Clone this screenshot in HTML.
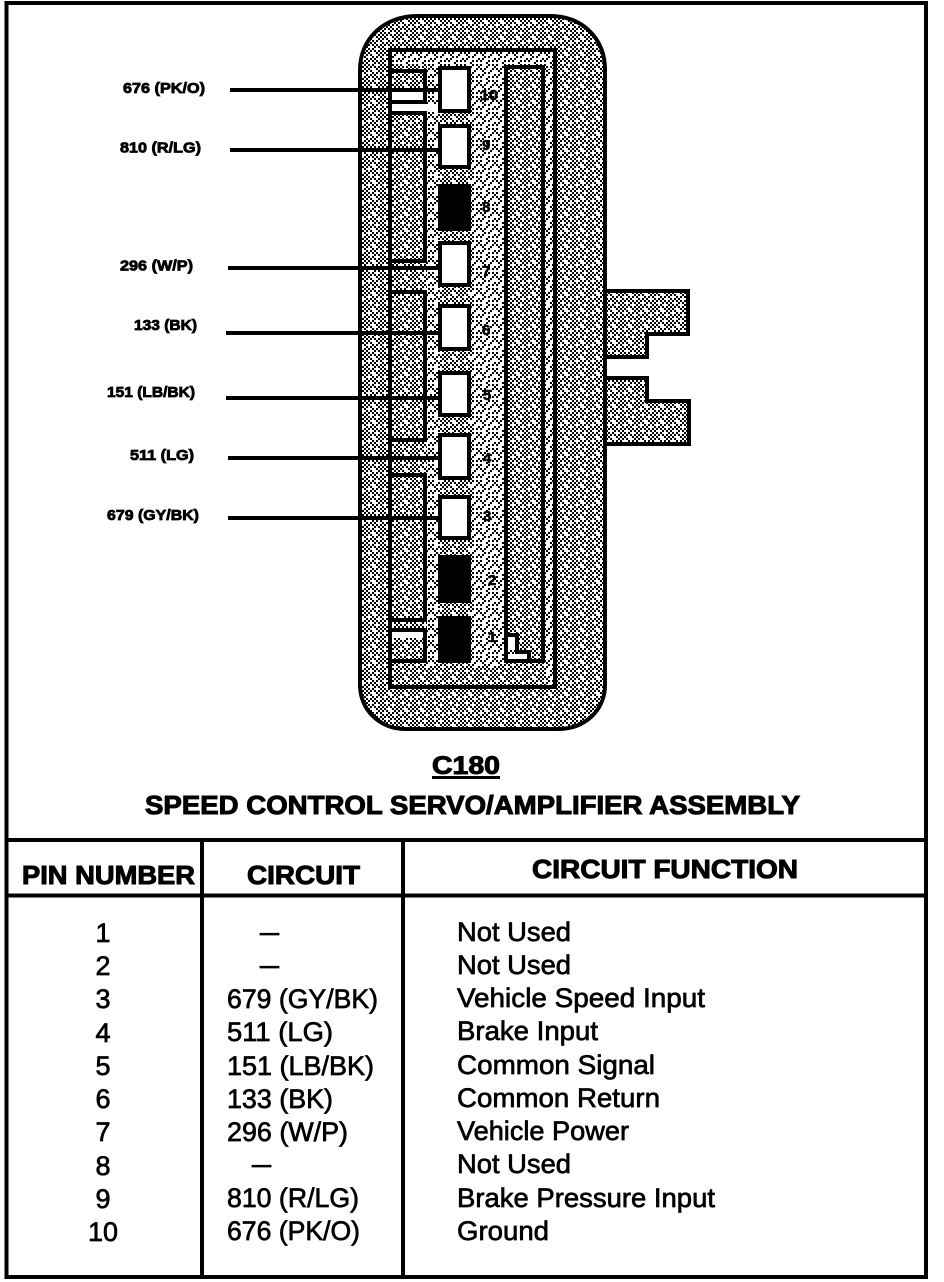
<!DOCTYPE html>
<html><head><meta charset="utf-8"><style>html,body{margin:0;padding:0;background:#fff}svg{display:block}text{font-family:"Liberation Sans",sans-serif;fill:#000}.b{font-weight:bold;stroke:#000;stroke-width:1}.s{font-size:15px;stroke-width:.8}.h{font-size:26px}.r{font-size:27px;stroke:#000;stroke-width:.7}.n{font-weight:bold;font-size:15px;fill:#000;stroke:#000;stroke-width:.6}.k{fill:none;stroke:#000;stroke-width:4}</style></head><body>
<svg width="944" height="1282" viewBox="0 0 944 1282" xmlns="http://www.w3.org/2000/svg">
<defs>
<pattern id="d" width="16" height="16" patternUnits="userSpaceOnUse" shape-rendering="crispEdges"><rect width="16" height="16" fill="#fff"/><path d="M0 0h2v2h-2zM4 0h2v2h-2zM12 0h2v2h-2zM2 2h2v2h-2zM6 2h2v2h-2zM10 2h2v2h-2zM14 2h2v2h-2zM0 4h2v2h-2zM8 4h2v2h-2zM12 4h2v2h-2zM2 6h2v2h-2zM10 6h2v2h-2zM14 6h2v2h-2zM4 8h2v2h-2zM8 8h2v2h-2zM12 8h2v2h-2zM2 10h2v2h-2zM6 10h2v2h-2zM14 10h2v2h-2zM0 12h2v2h-2zM4 12h2v2h-2zM8 12h2v2h-2zM12 12h2v2h-2zM6 14h2v2h-2zM10 14h2v2h-2zM14 14h2v2h-2z" fill="#000"/></pattern>
<pattern id="l" width="16" height="16" patternUnits="userSpaceOnUse" shape-rendering="crispEdges"><rect width="16" height="16" fill="#fff"/><path d="M0 0h2v2h-2zM8 0h2v2h-2zM12 0h2v2h-2zM6 2h2v2h-2zM14 2h2v2h-2zM0 4h2v2h-2zM4 4h2v2h-2zM12 4h2v2h-2zM10 6h2v2h-2zM2 6h2v2h-2zM4 8h2v2h-2zM8 8h2v2h-2zM2 10h2v2h-2zM14 10h2v2h-2zM0 12h2v2h-2zM8 12h2v2h-2zM12 12h2v2h-2zM6 14h2v2h-2z" fill="#000"/></pattern>
</defs>
<g shape-rendering="crispEdges">
<path class="k" d="M6.5 3H926V1277H6.5Z"/>
<path class="k" d="M7 840H926M7 895.500H926M202 840V1277M403 840V1277"/>
</g>
<path fill="url(#d)" d="M605 291H688V334H647V357H605ZM605 378H647V401H689V444H605Z"/>
<path class="k" d="M605 291H688V334H647V357H605M605 378H647V401H689V444H605"/>
<path fill="url(#d)" stroke="#000" stroke-width="4" d="M360 70C360 38 385 16 417 16H550C582 16 605 38 605 70V685C605 710 585 729 558 729H405C380 729 360 710 360 685Z"/>
<g shape-rendering="crispEdges">
<rect x="392" y="52" width="161" height="14" fill="url(#l)"/>
<rect x="545" y="69" width="8" height="616" fill="url(#l)"/>
<rect x="472" y="66" width="33" height="600" fill="url(#l)"/>
<rect x="427" y="66" width="11" height="600" fill="url(#l)"/>
<rect x="392" y="92" width="31" height="8" fill="#fff"/>
<rect x="392" y="104" width="46" height="7" fill="#fff"/>
<rect x="392" y="632" width="31" height="6" fill="#fff"/>
<rect x="508" y="637" width="7" height="13" fill="#fff"/>
<rect x="508" y="654" width="19" height="5" fill="#fff"/>
<path class="k" d="M390 50H555V687H390Z"/>
<path class="k" d="M390 71H425V102H390M390 113H425V261H390M390 292H425V440H390M390 475H425V620H390M390 630H425V661H390"/>
<path class="k" d="M506 67H543V661H506ZM506 635H517V652H529V661"/>
<g fill="#000">
<rect x="230" y="88" width="208" height="4"/><rect x="230" y="148" width="208" height="4"/><rect x="228" y="266" width="210" height="4"/><rect x="226" y="331" width="212" height="4"/><rect x="226" y="396" width="212" height="4"/><rect x="228" y="456" width="210" height="4"/><rect x="228" y="516" width="210" height="4"/>
</g>
<g fill="#fff" stroke="#000" stroke-width="4">
<rect x="440" y="68" width="29" height="43"/><rect x="440" y="126" width="29" height="41"/><rect x="440" y="243" width="29" height="42"/><rect x="440" y="306" width="29" height="43"/><rect x="440" y="373" width="29" height="42"/><rect x="440" y="435" width="29" height="43"/><rect x="440" y="497" width="29" height="41"/>
</g>
<g fill="#000"><rect x="438" y="184" width="33" height="47"/><rect x="438" y="555" width="33" height="48"/><rect x="438" y="616" width="33" height="47"/></g>
</g>
<text class="n" x="480" y="100" textLength="18" lengthAdjust="spacingAndGlyphs">10</text>
<text class="n" x="482" y="150">9</text><text class="n" x="482" y="212">8</text><text class="n" x="482" y="276">7</text><text class="n" x="482" y="335">6</text><text class="n" x="483" y="400">5</text><text class="n" x="483" y="463">4</text><text class="n" x="483" y="521">3</text><text class="n" x="488" y="585">2</text><text class="n" x="488" y="642">1</text>
<g class="b s">
<text x="123" y="93" textLength="82" lengthAdjust="spacingAndGlyphs">676 (PK/O)</text>
<text x="120" y="152.500" textLength="81" lengthAdjust="spacingAndGlyphs">810 (R/LG)</text>
<text x="120" y="270.500" textLength="73" lengthAdjust="spacingAndGlyphs">296 (W/P)</text>
<text x="134" y="330" textLength="63" lengthAdjust="spacingAndGlyphs">133 (BK)</text>
<text x="107" y="397" textLength="88" lengthAdjust="spacingAndGlyphs">151 (LB/BK)</text>
<text x="130" y="460" textLength="64" lengthAdjust="spacingAndGlyphs">511 (LG)</text>
<text x="107" y="520" textLength="92" lengthAdjust="spacingAndGlyphs">679 (GY/BK)</text>
</g>
<text class="b" font-size="25" x="432" y="774" textLength="68" lengthAdjust="spacingAndGlyphs">C180</text>
<rect x="432" y="776" width="68" height="3" fill="#000"/>
<text class="b" font-size="26" x="145" y="814" textLength="655" lengthAdjust="spacingAndGlyphs">SPEED CONTROL SERVO/AMPLIFIER ASSEMBLY</text>
<text class="b h" x="22" y="884" textLength="173" lengthAdjust="spacingAndGlyphs">PIN NUMBER</text>
<text class="b h" x="247" y="884" textLength="113" lengthAdjust="spacingAndGlyphs">CIRCUIT</text>
<text class="b h" x="532" y="878" textLength="266" lengthAdjust="spacingAndGlyphs">CIRCUIT FUNCTION</text>
<g class="r" text-anchor="middle">
<text x="103" y="942">1</text><text x="103" y="975">2</text><text x="103" y="1008">3</text><text x="103" y="1042">4</text><text x="103" y="1075">5</text><text x="103" y="1108">6</text><text x="103" y="1141">7</text><text x="103" y="1175">8</text><text x="103" y="1208">9</text><text x="103" y="1241">10</text>
</g>
<g class="r">
<text x="260" y="941" textLength="19" lengthAdjust="spacingAndGlyphs">–</text>
<text x="260" y="974" textLength="19" lengthAdjust="spacingAndGlyphs">–</text>
<text x="227" y="1008" textLength="151" lengthAdjust="spacingAndGlyphs">679 (GY/BK)</text>
<text x="227" y="1041" textLength="106" lengthAdjust="spacingAndGlyphs">511 (LG)</text>
<text x="227" y="1075" textLength="147" lengthAdjust="spacingAndGlyphs">151 (LB/BK)</text>
<text x="227" y="1108" textLength="106" lengthAdjust="spacingAndGlyphs">133 (BK)</text>
<text x="227" y="1141" textLength="121" lengthAdjust="spacingAndGlyphs">296 (W/P)</text>
<text x="252" y="1173" textLength="19" lengthAdjust="spacingAndGlyphs">–</text>
<text x="227" y="1207" textLength="132" lengthAdjust="spacingAndGlyphs">810 (R/LG)</text>
<text x="227" y="1240" textLength="133" lengthAdjust="spacingAndGlyphs">676 (PK/O)</text>
</g>
<g class="r">
<text x="457" y="941" textLength="114" lengthAdjust="spacingAndGlyphs">Not Used</text>
<text x="457" y="974" textLength="114" lengthAdjust="spacingAndGlyphs">Not Used</text>
<text x="457" y="1007" textLength="248" lengthAdjust="spacingAndGlyphs">Vehicle Speed Input</text>
<text x="457" y="1040" textLength="141" lengthAdjust="spacingAndGlyphs">Brake Input</text>
<text x="457" y="1074" textLength="198" lengthAdjust="spacingAndGlyphs">Common Signal</text>
<text x="457" y="1107" textLength="203" lengthAdjust="spacingAndGlyphs">Common Return</text>
<text x="457" y="1140" textLength="172" lengthAdjust="spacingAndGlyphs">Vehicle Power</text>
<text x="457" y="1173" textLength="114" lengthAdjust="spacingAndGlyphs">Not Used</text>
<text x="457" y="1207" textLength="258" lengthAdjust="spacingAndGlyphs">Brake Pressure Input</text>
<text x="457" y="1240" textLength="92" lengthAdjust="spacingAndGlyphs">Ground</text>
</g>
</svg>
</body></html>
